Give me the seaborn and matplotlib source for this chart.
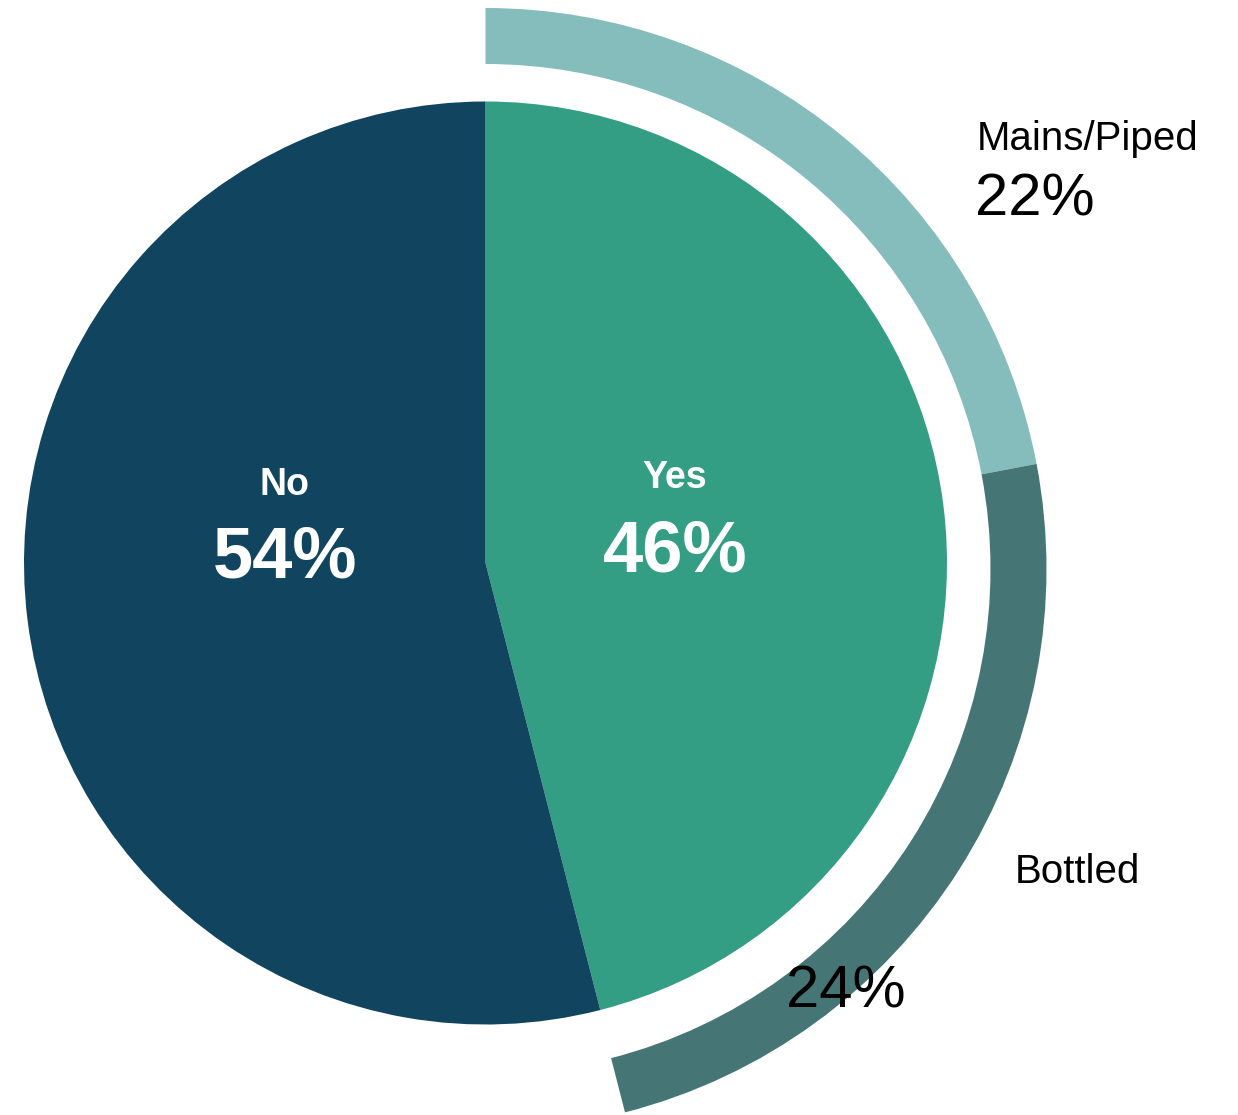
import matplotlib
matplotlib.use("Agg")
import matplotlib.pyplot as plt
import seaborn as sns

# Share of respondents with water access, and the split of "Yes" by source
answers = ["Yes", "No"]
answer_pct = [46, 54]
sources = ["Mains/Piped", "Bottled"]
source_pct = [22, 24]

answer_colors = ["#349E85", "#10445F"]
source_colors = ["#85BCBC", "#467575"]

sns.set_theme(style="white")
plt.rcParams["font.family"] = ["Liberation Sans", "DejaVu Sans"]

W, H = 1238, 1115
fig = plt.figure(figsize=(W / 100, H / 100), dpi=100)
ax = fig.add_axes([0, 0, 1, 1])

# Inner pie: Yes / No
pie_center = (485.5, H - 563)
ax.pie(answer_pct, colors=answer_colors, startangle=90, counterclock=False,
       radius=461.5, center=pie_center, frame=True,
       wedgeprops=dict(linewidth=0))

# Outer ring: sources of the "Yes" share, remainder left blank
rest = 100 - sum(source_pct)
ring_center = (485.5, H - 569)
wedges, _ = ax.pie(source_pct + [rest], colors=source_colors + ["white"],
                   startangle=90, counterclock=False, radius=561,
                   center=ring_center, frame=True,
                   wedgeprops=dict(width=56, linewidth=0))
wedges[-1].set_visible(False)

ax.set_xlim(0, W)
ax.set_ylim(0, H)
ax.set_aspect("equal")
ax.axis("off")

# Labels inside the pie
ax.text(285, H - 495, answers[1], color="white", fontsize=27, fontweight="bold",
        ha="center", va="baseline")
ax.text(285, H - 578, f"{answer_pct[1]}%", color="white", fontsize=52,
        fontweight="bold", ha="center", va="baseline")
ax.text(675, H - 488, answers[0], color="white", fontsize=27, fontweight="bold",
        ha="center", va="baseline")
ax.text(675, H - 571, f"{answer_pct[0]}%", color="white", fontsize=52,
        fontweight="bold", ha="center", va="baseline")

# Labels beside the ring
ax.text(977, H - 150, sources[0], color="black", fontsize=29,
        ha="left", va="baseline")
ax.text(975, H - 215, f"{source_pct[0]}%", color="black", fontsize=43,
        ha="left", va="baseline")
ax.text(1015, H - 883, sources[1], color="black", fontsize=29,
        ha="left", va="baseline")
ax.text(786, H - 1008, f"{source_pct[1]}%", color="black", fontsize=43,
        ha="left", va="baseline")

fig.savefig("out.png", dpi=100, facecolor="white")
